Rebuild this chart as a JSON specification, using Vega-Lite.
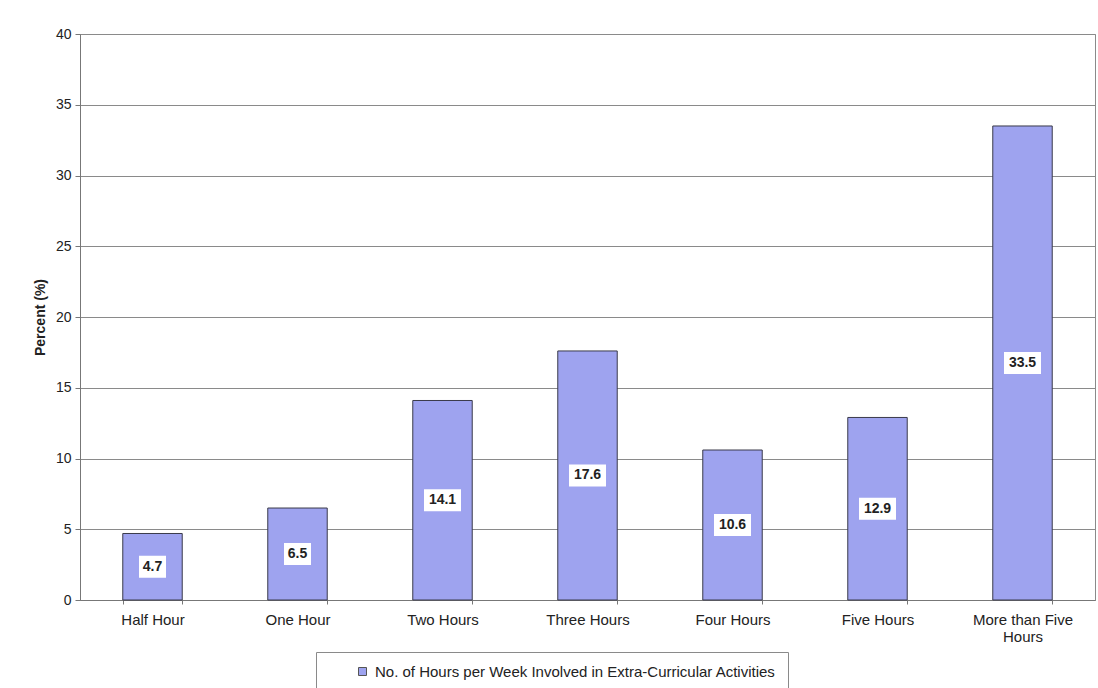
{
  "$schema": "https://vega.github.io/schema/vega-lite/v6.json",
  "width": 1015,
  "height": 566,
  "autosize": "none",
  "padding": {"left": 80, "top": 34, "right": 3, "bottom": 88},
  "background": "white",
  "config": {
    "font": "Liberation Sans",
    "view": {"stroke": "#8a8a8a", "strokeWidth": 1}
  },
  "data": {
    "values": [
      {"hours": "Half Hour", "pct": 4.7},
      {"hours": "One Hour", "pct": 6.5},
      {"hours": "Two Hours", "pct": 14.1},
      {"hours": "Three Hours", "pct": 17.6},
      {"hours": "Four Hours", "pct": 10.6},
      {"hours": "Five Hours", "pct": 12.9},
      {"hours": "More than Five Hours", "pct": 33.5}
    ]
  },
  "encoding": {
    "x": {
      "field": "hours",
      "type": "nominal",
      "sort": null,
      "scale": {"paddingInner": 0.59, "paddingOuter": 0.295},
      "axis": {
        "title": null,
        "labelAngle": 0,
        "labelExpr": "datum.value == 'More than Five Hours' ? ['More than Five', 'Hours'] : datum.label",
        "labelFont": "Liberation Sans",
        "labelFontSize": 15,
        "labelColor": "#222222",
        "labelLineHeight": 17,
        "labelPadding": 8,
        "tickBand": "extent",
        "tickSize": 4,
        "tickColor": "#777777",
        "domainColor": "#777777"
      }
    }
  },
  "layer": [
    {
      "mark": {"type": "bar", "stroke": "#3a3a4a", "strokeWidth": 1},
      "encoding": {
        "y": {
          "field": "pct",
          "type": "quantitative",
          "scale": {"domain": [0, 40]},
          "axis": {
            "values": [0, 5, 10, 15, 20, 25, 30, 35, 40],
            "title": "Percent (%)",
            "titleFont": "Liberation Sans",
            "titleFontSize": 14,
            "titleFontWeight": "bold",
            "titleColor": "#222222",
            "titlePadding": 8,
            "labelFont": "Liberation Sans",
            "labelFontSize": 14,
            "labelColor": "#222222",
            "labelPadding": 4,
            "tickSize": 5,
            "tickColor": "#777777",
            "domainColor": "#777777",
            "grid": true,
            "gridColor": "#8a8a8a",
            "gridOpacity": 1
          }
        },
        "color": {
          "datum": "No. of Hours per Week Involved in Extra-Curricular Activities",
          "type": "nominal",
          "scale": {"range": ["#9ea3ef"]},
          "legend": {
            "title": null,
            "orient": "none",
            "legendX": 236,
            "legendY": 618,
            "padding": 12,
            "symbolOffset": 27,
            "symbolType": "square",
            "symbolSize": 64,
            "symbolStrokeColor": "#555555",
            "symbolStrokeWidth": 1,
            "labelFont": "Liberation Sans",
            "labelFontSize": 15,
            "labelColor": "#222222",
            "labelOffset": 5,
            "labelLimit": 600,
            "strokeColor": "#8a8a8a",
            "fillColor": "white"
          }
        }
      }
    },
    {
      "mark": {"type": "point", "filled": true, "fill": "white", "opacity": 1, "strokeWidth": 0},
      "encoding": {
        "y": {"field": "pct", "type": "quantitative", "scale": {"domain": [0, 80]}, "axis": null},
        "shape": {
          "condition": {"test": "datum.pct >= 10", "value": "M-1,-0.6H1V0.6H-1Z"},
          "value": "M-1,-0.815H1V0.815H-1Z"
        },
        "size": {
          "condition": {"test": "datum.pct >= 10", "value": 1369},
          "value": 729
        }
      }
    },
    {
      "mark": {"type": "text", "font": "Liberation Sans", "fontSize": 14, "fontWeight": "bold", "color": "#222222", "baseline": "middle", "align": "center"},
      "encoding": {
        "y": {"field": "pct", "type": "quantitative", "scale": {"domain": [0, 80]}, "axis": null},
        "text": {"field": "pct", "type": "quantitative", "format": ".1f"}
      }
    }
  ],
  "resolve": {"scale": {"y": "independent"}}
}
